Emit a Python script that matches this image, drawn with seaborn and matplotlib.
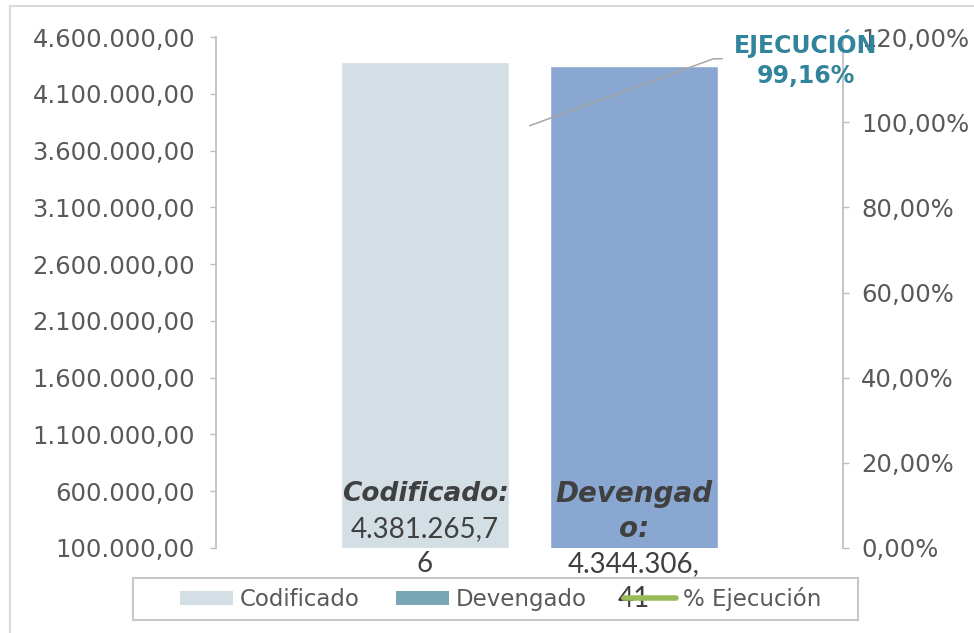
import numpy as np
import pandas as pd
import seaborn as sns
import matplotlib.pyplot as plt
from matplotlib.patches import Patch, Rectangle
from matplotlib.lines import Line2D
from matplotlib.ticker import FuncFormatter

# datos
series = ["Codificado", "Devengado"]
amounts = [4381265.76, 4344306.41]
pct_ejecucion = 99.16
bar_names = ["Codificado:", "Devengad\no:"]
bar_values = ["4.381.265,7\n6", "4.344.306,\n41"]
left_ticks = np.arange(100000, 4600001, 500000)
right_ticks = np.arange(0, 121, 20)

bar_colors = ["#D3DFE4", "#89A7D0"]
legend_colors = ["#D3DFE4", "#78A6B4"]
line_color = "#9BBB59"
grey = "#BFBFBF"
txt = "#595959"


def es_num(v, dec=2):
    s = f"{v:,.{dec}f}"
    return s.replace(",", "X").replace(".", ",").replace("X", ".")


sns.set_theme(style="white")
plt.rcParams["font.family"] = ["DejaVu Sans"]

fig = plt.figure(figsize=(9.74, 6.33), dpi=100)
ax = fig.add_axes([216 / 974, 1 - 548 / 633, (843 - 216) / 974, (548 - 37) / 633])

df = pd.DataFrame({"serie": series, "monto": amounts})
sns.barplot(data=df, x="serie", y="monto", hue="serie", palette=bar_colors,
            width=0.8, saturation=1, legend=False, ax=ax)

ax.set_xlim(-1, 2)
ax.set_ylim(left_ticks[0], left_ticks[-1])
ax.set_yticks(left_ticks)
ax.yaxis.set_major_formatter(FuncFormatter(lambda v, p: es_num(v)))
ax.set_xticks([])
ax.set_xlabel("")
ax.set_ylabel("")
for s in ["top", "bottom", "right"]:
    ax.spines[s].set_visible(False)
ax.spines["left"].set_color(grey)
ax.tick_params(axis="y", left=True, length=4.3, width=1, color=grey, pad=10.8,
               labelsize=17.5, labelcolor=txt)

# eje secundario
ax2 = ax.twinx()
x_mid = np.mean(range(len(series)))
ax2.plot([x_mid], [pct_ejecucion], color=line_color, lw=3)
ax2.set_ylim(right_ticks[0], right_ticks[-1])
ax2.set_yticks(right_ticks)
ax2.yaxis.set_major_formatter(FuncFormatter(lambda v, p: es_num(v) + "%"))
for s in ["top", "bottom", "left"]:
    ax2.spines[s].set_visible(False)
ax2.spines["right"].set_color(grey)
ax2.tick_params(axis="y", right=True, length=4.3, width=1, color=grey, pad=8.6,
                labelsize=17.5, labelcolor=txt)
ax2.grid(False)

# etiquetas de las barras
y0 = ax.get_ylim()[0]
for i, (name, val) in enumerate(zip(bar_names, bar_values)):
    lines = [(t, True) for t in name.split("\n")] + [(t, False) for t in val.split("\n")]
    for j, (t, bold) in enumerate(lines):
        ax.annotate(t, xy=(i, y0), xytext=(0, 54 - 35 * j), textcoords="offset pixels",
                    ha="center", va="center", color="#404040",
                    fontsize=(19 + i) if bold else 20,
                    fontweight="bold" if bold else "normal",
                    fontstyle="italic" if bold else "normal",
                    family=["DejaVu Sans"] if bold else ["Lato", "DejaVu Sans"],
                    annotation_clip=False, zorder=4)

# anotacion de ejecucion
ax2.annotate(f"EJECUCIÓN\n{es_num(pct_ejecucion)}%", xy=(x_mid, pct_ejecucion),
             xytext=(276, 67), textcoords="offset pixels",
             ha="center", va="center", ma="center", fontsize=17, fontweight="bold",
             color="#31849B", linespacing=1.3, zorder=6,
             arrowprops=dict(arrowstyle="-", color="#A6A6A6", lw=1.1,
                             connectionstyle="angle,angleA=0,angleB=20,rad=0",
                             relpos=(0, 0.5), shrinkA=6, shrinkB=0))

# leyenda
handles = [Patch(facecolor=legend_colors[0], edgecolor="none"),
           Patch(facecolor=legend_colors[1], edgecolor="none"),
           Line2D([0], [0], color=line_color, lw=4, solid_capstyle="round")]
leg = fig.legend(handles, series + ["% Ejecución"], loc="center",
                 bbox_to_anchor=(501 / 974, 1 - 599 / 633), ncol=3, fontsize=16.5,
                 frameon=False, handlelength=2.3, handleheight=0.55, handletextpad=0.3,
                 columnspacing=1.6, labelcolor=txt)
fig.patches.append(Rectangle((133 / 974, 1 - 620 / 633), 725 / 974, 42 / 633,
                             transform=fig.transFigure, fill=False,
                             edgecolor="#C8C8C8", lw=1.5))

# borde del grafico
fig.patches.append(Rectangle((10 / 974, -0.5), 2, 1.5 - 6 / 633, transform=fig.transFigure,
                             fill=False, edgecolor="#D9D9D9", lw=1.5))

fig.savefig("out.png", dpi=100)
